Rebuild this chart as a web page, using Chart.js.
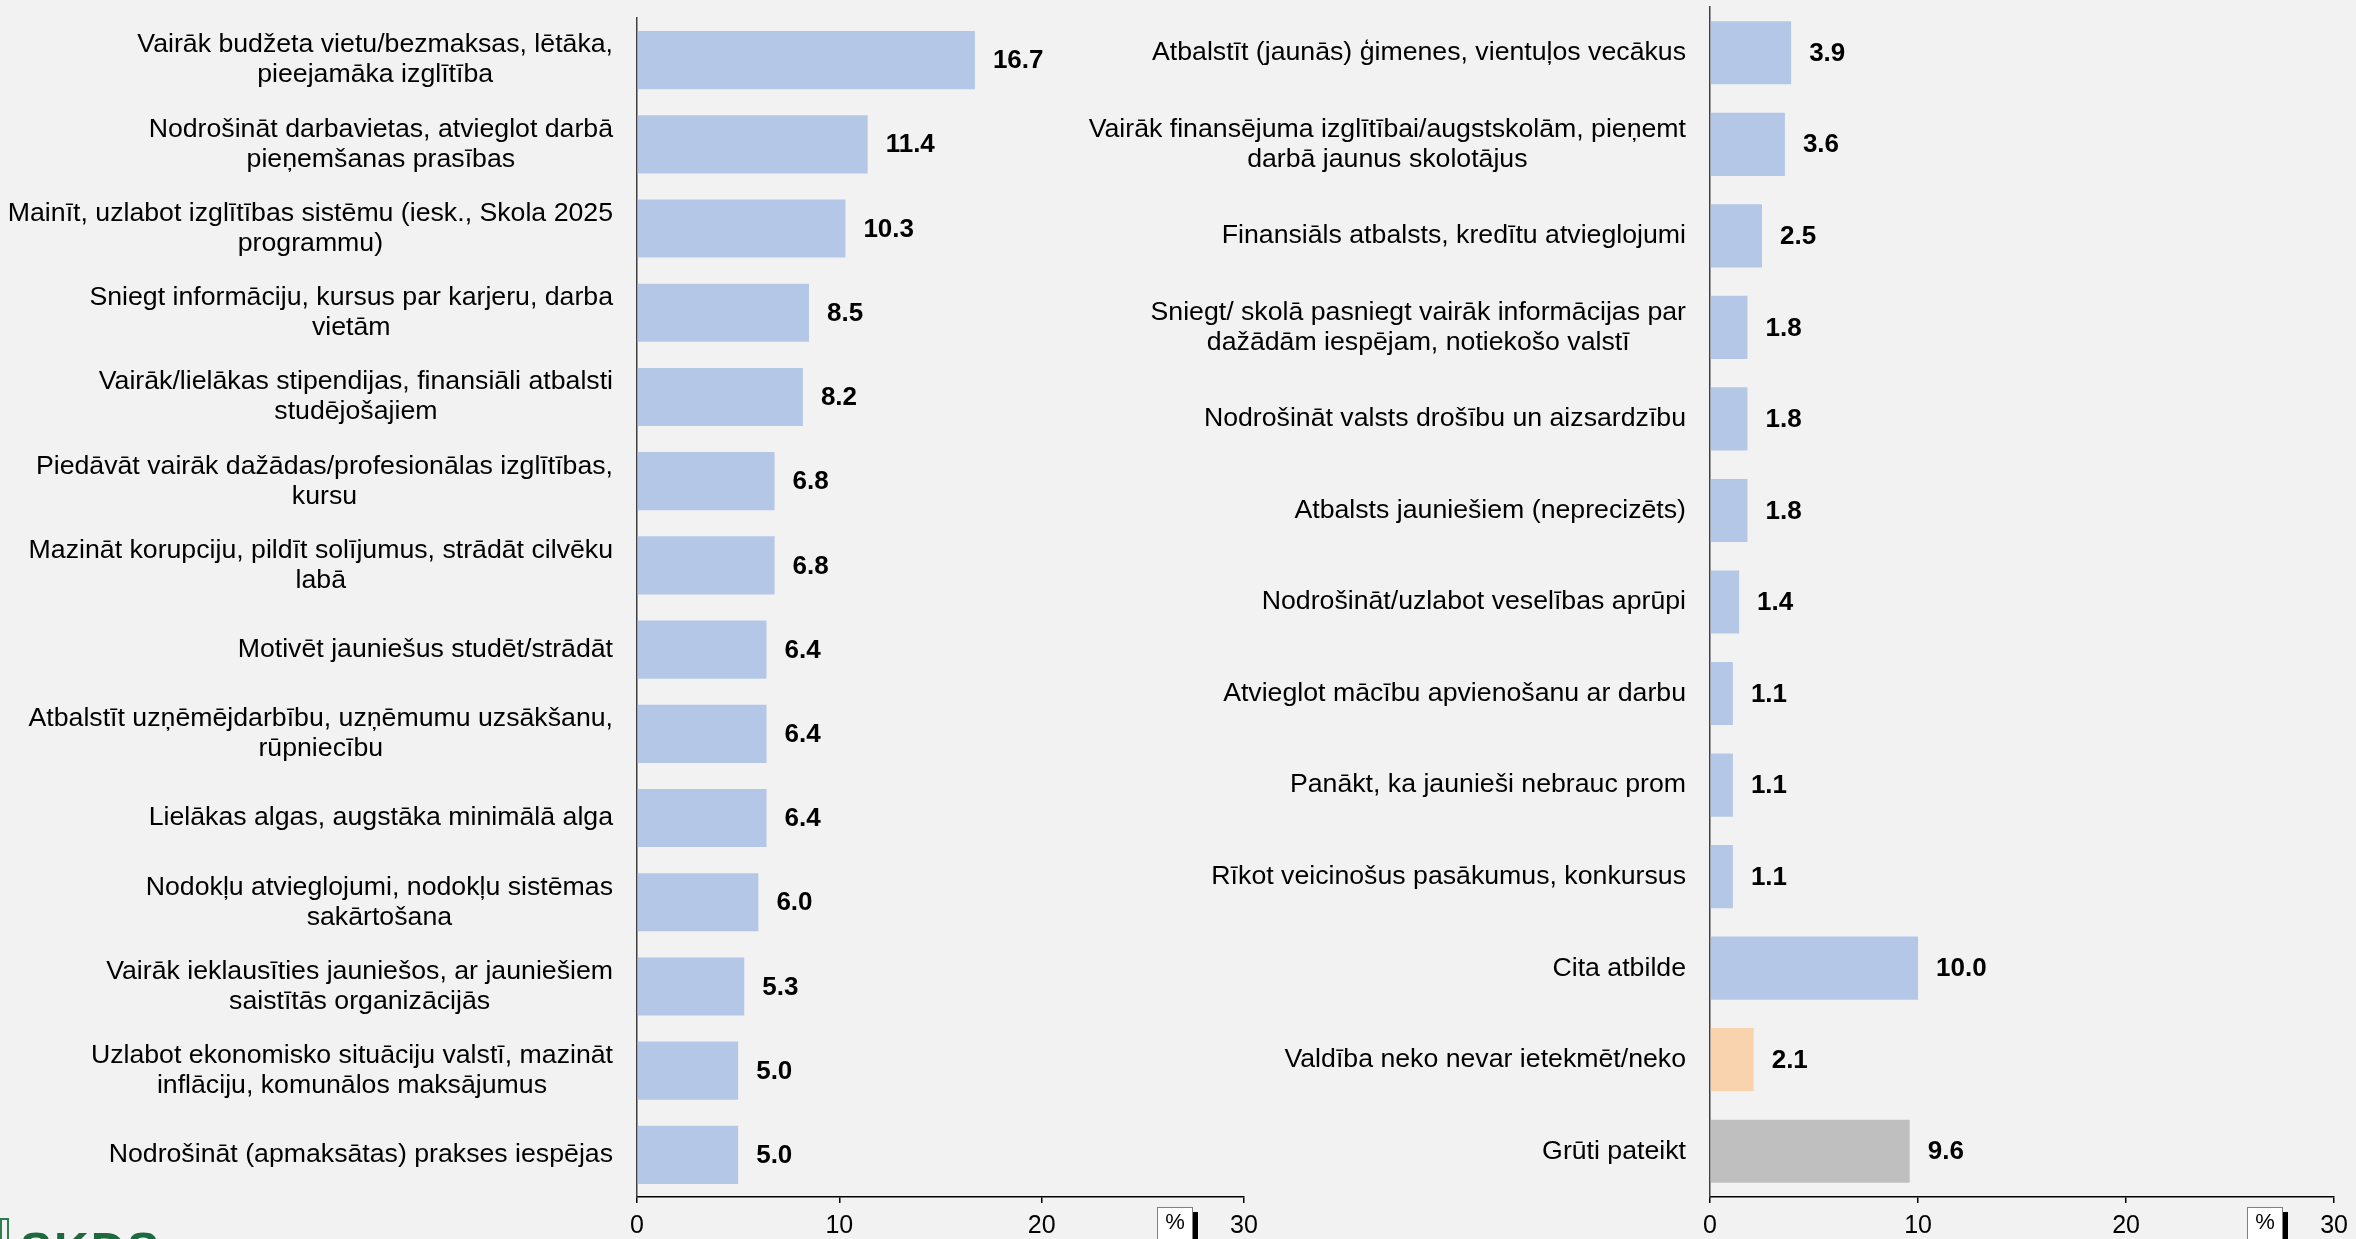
<!DOCTYPE html>
<html>
<head>
<meta charset="utf-8">
<script src="https://cdn.jsdelivr.net/npm/chart.js@4.4.1/dist/chart.umd.min.js"></script>
<style>
  body { margin: 0; background: #f2f2f2; width: 2356px; height: 1239px; overflow: hidden; position: relative; font-family: 'Liberation Sans', Arial, sans-serif; }
  #leftChart { position: absolute; left: 0; top: 0; }
  #rightChart { position: absolute; left: 1000px; top: 0; }
  .logoMark { position: absolute; left: 0; top: 1218px; width: 9px; height: 40px; border: 2px solid #2e7d50; box-sizing: border-box; }
  .logo { position: absolute; left: 20px; top: 1226px; color: #1d6a3e; font-weight: bold; font-size: 48px; line-height: 1; letter-spacing: 2px; }
</style>
</head>
<body>
<canvas id="leftChart" width="1290" height="1239"></canvas>
<canvas id="rightChart" width="1356" height="1239"></canvas>
<div class="logoMark"></div>
<div class="logo">SKDS</div>
<script>
// left panel
var leftCategories = [
  ["Vairāk budžeta vietu/bezmaksas, lētāka,", "pieejamāka izglītība"],
  ["Nodrošināt darbavietas, atvieglot darbā", "pieņemšanas prasības"],
  ["Mainīt, uzlabot izglītības sistēmu (iesk., Skola 2025", "programmu)"],
  ["Sniegt informāciju, kursus par karjeru, darba", "vietām"],
  ["Vairāk/lielākas stipendijas, finansiāli atbalsti", "studējošajiem"],
  ["Piedāvāt vairāk dažādas/profesionālas izglītības,", "kursu"],
  ["Mazināt korupciju, pildīt solījumus, strādāt cilvēku", "labā"],
  "Motivēt jauniešus studēt/strādāt",
  ["Atbalstīt uzņēmējdarbību, uzņēmumu uzsākšanu,", "rūpniecību"],
  "Lielākas algas, augstāka minimālā alga",
  ["Nodokļu atvieglojumi, nodokļu sistēmas", "sakārtošana"],
  ["Vairāk ieklausīties jauniešos, ar jauniešiem", "saistītās organizācijās"],
  ["Uzlabot ekonomisko situāciju valstī, mazināt", "inflāciju, komunālos maksājumus"],
  "Nodrošināt (apmaksātas) prakses iespējas"
];
var leftValues = [16.7, 11.4, 10.3, 8.5, 8.2, 6.8, 6.8, 6.4, 6.4, 6.4, 6.0, 5.3, 5.0, 5.0];

// right panel
var rightCategories = [
  "Atbalstīt (jaunās) ģimenes, vientuļos vecākus",
  ["Vairāk finansējuma izglītībai/augstskolām, pieņemt", "darbā jaunus skolotājus"],
  "Finansiāls atbalsts, kredītu atvieglojumi",
  ["Sniegt/ skolā pasniegt vairāk informācijas par", "dažādām iespējam, notiekošo valstī"],
  "Nodrošināt valsts drošību un aizsardzību",
  "Atbalsts jauniešiem (neprecizēts)",
  "Nodrošināt/uzlabot veselības aprūpi",
  "Atvieglot mācību apvienošanu ar darbu",
  "Panākt, ka jaunieši nebrauc prom",
  "Rīkot veicinošus pasākumus, konkursus",
  "Cita atbilde",
  "Valdība neko nevar ietekmēt/neko",
  "Grūti pateikt"
];
var rightValues = [3.9, 3.6, 2.5, 1.8, 1.8, 1.8, 1.4, 1.1, 1.1, 1.1, 10.0, 2.1, 9.6];

var xTicks = [0, 10, 20, 30];

var BLUE = '#b4c7e7', ORANGE = '#f8d3ae', GREY = '#bfbfbf';
var rightColors = rightValues.map(function(v, i) {
  if (i == rightValues.length - 2) return ORANGE;
  if (i == rightValues.length - 1) return GREY;
  return BLUE;
});

var FONT = "'Liberation Sans', Arial, sans-serif";
Chart.defaults.font.family = FONT;

var catLabels = {
  id: 'catLabels',
  afterDraw: function(chart) {
    var ctx = chart.ctx, y = chart.scales.y, left = chart.chartArea.left;
    ctx.save();
    ctx.font = "26.7px " + FONT;
    ctx.fillStyle = '#000';
    ctx.textAlign = 'center';
    ctx.textBaseline = 'middle';
    chart.data.labels.forEach(function(lab, i) {
      var lines = Array.isArray(lab) ? lab : [lab];
      var w = 0;
      lines.forEach(function(l) { w = Math.max(w, ctx.measureText(l).width); });
      var cx = left - 24 - w / 2;
      var cy = y.getPixelForValue(i);
      lines.forEach(function(l, j) {
        ctx.fillText(l, cx, cy + (j - (lines.length - 1) / 2) * 30);
      });
    });
    ctx.restore();
  }
};

var valueLabels = {
  id: 'valueLabels',
  afterDatasetsDraw: function(chart) {
    var ctx = chart.ctx;
    var meta = chart.getDatasetMeta(0);
    var data = chart.data.datasets[0].data;
    ctx.save();
    ctx.font = "bold 26px " + FONT;
    ctx.fillStyle = '#000';
    ctx.textAlign = 'left';
    ctx.textBaseline = 'middle';
    meta.data.forEach(function(bar, i) {
      ctx.fillText(data[i].toFixed(1), bar.x + 18, bar.y + 1);
    });
    ctx.restore();
  }
};

var percentBox = {
  id: 'percentBox',
  afterDraw: function(chart) {
    var ctx = chart.ctx, x = chart.scales.x;
    var r = Math.round(x.getPixelForValue(x.max)) - 51;
    var top = Math.round(chart.chartArea.bottom) + 10;
    ctx.save();
    ctx.fillStyle = '#000';
    ctx.fillRect(r, top + 5, 5, 60);
    ctx.fillStyle = '#fff';
    ctx.fillRect(r - 36, top, 36, 60);
    ctx.strokeStyle = '#808080';
    ctx.lineWidth = 1;
    ctx.strokeRect(r - 35.5, top + 0.5, 35, 60);
    ctx.fillStyle = '#000';
    ctx.font = "22px " + FONT;
    ctx.textAlign = 'center';
    ctx.textBaseline = 'middle';
    ctx.fillText('%', r - 18, top + 16);
    ctx.restore();
  }
};

function makeChart(id, labels, values, colors, axisWidth, padTop, padRight) {
  return new Chart(document.getElementById(id), {
    type: 'bar',
    data: {
      labels: labels,
      datasets: [{
        data: values,
        backgroundColor: colors,
        borderWidth: 0,
        barPercentage: 0.69,
        categoryPercentage: 1
      }]
    },
    options: {
      indexAxis: 'y',
      responsive: false,
      animation: false,
      layout: { padding: { top: padTop, right: padRight, left: 0, bottom: 0 } },
      plugins: { legend: { display: false }, tooltip: { enabled: false } },
      scales: {
        x: {
          min: 0, max: 30,
          afterBuildTicks: function(s) { s.ticks = xTicks.map(function(v) { return { value: v }; }); },
          ticks: { color: '#000', font: { size: 25 }, padding: 8 },
          grid: { drawOnChartArea: false, tickLength: 6, color: '#000', lineWidth: 1.5 },
          border: { color: '#000', width: 1.5 },
          afterFit: function(s) { s.height = 42; }
        },
        y: {
          ticks: { display: false },
          grid: { display: false },
          border: { color: '#404040', width: 1.5 },
          afterFit: function(s) { s.width = axisWidth; }
        }
      }
    },
    plugins: [catLabels, valueLabels, percentBox]
  });
}

makeChart('leftChart', leftCategories, leftValues, BLUE, 637, 18, 46);
makeChart('rightChart', rightCategories, rightValues, rightColors, 710, 7, 16);
</script>
</body>
</html>
